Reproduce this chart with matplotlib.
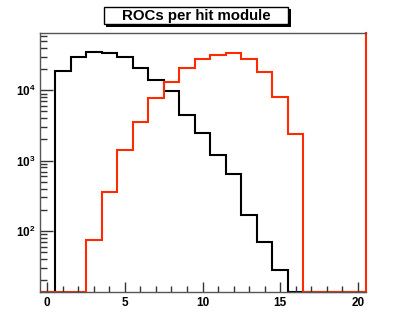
import numpy as np
import matplotlib
matplotlib.use("Agg")
import matplotlib.pyplot as plt
from matplotlib.patches import Rectangle
from matplotlib.ticker import FixedLocator, FuncFormatter, LogLocator, NullFormatter

plt.rcParams['font.family'] = ['Liberation Sans', 'DejaVu Sans']
plt.rcParams['mathtext.fontset'] = 'custom'
plt.rcParams['mathtext.bf'] = 'Liberation Sans:bold'
plt.rcParams['mathtext.rm'] = 'Liberation Sans:bold'

title = "ROCs per hit module"
bin_edges = np.arange(-0.5, 21.0, 1.0)  # 21 bins centred on 0..20
black_counts = [0, 18900, 30000, 35300, 34100, 29400, 20700, 13900, 9700, 4500,
                2450, 1200, 650, 169, 69, 28, 0, 0, 0, 0, 0]
red_counts = [0, 0, 0, 74, 353, 1410, 3500, 7850, 13200, 20500,
              28000, 32000, 34100, 27500, 18400, 8000, 2400, 0, 0, 0, 0]
x_major = [0, 5, 10, 15, 20]
y_major = [1e2, 1e3, 1e4]
ymin, ymax = 13.7, 64600

W, H = 407, 325
fig = plt.figure(figsize=(W / 100, H / 100), dpi=100)
ax = fig.add_axes([39.5 / W, (H - 291.7) / H, (365.5 - 39.5) / W, (291.7 - 33.3) / H])

red = '#ff2a00'
b = np.array(black_counts, float)
r = np.array(red_counts, float)
ax.stairs(np.where(b > 0, b, ymin), bin_edges, baseline=None, color='black', lw=1.5, clip_on=False)
ax.stairs(np.where(r > 0, r, ymin), bin_edges, baseline=None, color=red, lw=1.5, clip_on=False)

ax.set_yscale('log')
ax.set_xlim(bin_edges[0], bin_edges[-1])
ax.set_ylim(ymin, ymax)

ax.xaxis.set_major_locator(FixedLocator(x_major))
ax.xaxis.set_minor_locator(FixedLocator([v for v in range(0, 21) if v not in x_major]))
ax.yaxis.set_major_locator(FixedLocator(y_major))
ax.yaxis.set_minor_locator(LogLocator(base=10, subs=np.arange(2, 10)))
ax.yaxis.set_minor_formatter(NullFormatter())
ax.yaxis.set_major_formatter(FuncFormatter(lambda v, p: r'$\mathbf{10^{%d}}$' % int(round(np.log10(v)))))

ax.tick_params(axis='both', which='both', direction='in', color='#333333', width=1,
               top=False, right=False, labelsize=8.5)
ax.tick_params(axis='x', which='major', length=7, pad=4)
ax.tick_params(axis='x', which='minor', length=4)
ax.tick_params(axis='y', which='major', length=9, pad=3)
ax.tick_params(axis='y', which='minor', length=5)
for lab in ax.get_xticklabels():
    lab.set_fontweight('bold')

for s in ['left', 'top', 'bottom']:
    ax.spines[s].set_color('#555555')
    ax.spines[s].set_linewidth(1)
ax.spines['right'].set_color(red)
ax.spines['right'].set_linewidth(1.5)

# title box with shadow (figure pixel coords)
def px(x, y_top):
    return x / W, (H - y_top) / H

sx, sy = px(106, 26.5)
fig.patches.append(Rectangle((sx, sy), (290.5 - 106) / W, (26.5 - 9) / H,
                             transform=fig.transFigure, facecolor='black', edgecolor='none'))
bx, by = px(103.5, 24)
fig.patches.append(Rectangle((bx, by), (288 - 103.5) / W, (24 - 7.5) / H,
                             transform=fig.transFigure, facecolor='white', edgecolor='black', lw=1))
tx, ty = px(196, 15.7)
fig.text(tx, ty, title, ha='center', va='center', fontsize=10.8, fontweight='bold')

fig.savefig('out.png', dpi=100)
